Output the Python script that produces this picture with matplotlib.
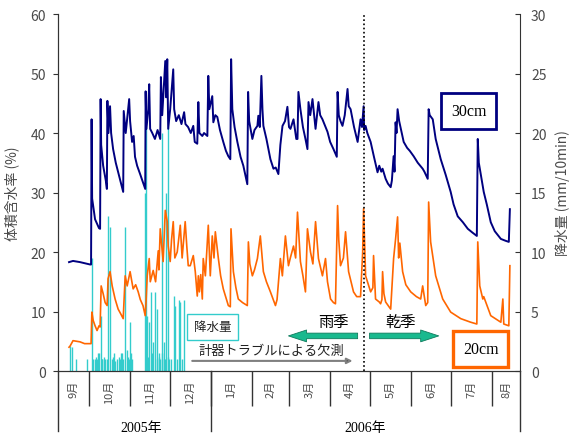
import matplotlib
matplotlib.use('Agg')
import matplotlib.pyplot as plt
import matplotlib.transforms as mtransforms

plt.rcParams['font.family'] = ['Noto Sans CJK JP', 'DejaVu Sans']

# x = days since 2005-09-01
soil30 = [(15.3, 18.3), (18.3, 18.5), (23.6, 18.3), (31.2, 17.9), (31.9, 17.9), (32.3, 42.3), (32.7, 29),
          (34.9, 25.5), (37.9, 24), (38.7, 23.9), (39.1, 45.7), (39.5, 38), (41.0, 34.5), (43.0, 32),
          (43.8, 30.6), (44.2, 45.4), (45, 40), (46.2, 44.5), (47.0, 40), (48.5, 37.3), (50.5, 35),
          (52.3, 33.4), (54.5, 31.5), (56.1, 30.1), (56.5, 43.7), (58, 40), (60.6, 45.7), (61.3, 42),
          (62.8, 38.5), (64, 39.5), (65, 36), (66.6, 34.5), (69, 33), (72.7, 30.6), (73.0, 47),
          (73.6, 40.7), (75.0, 44), (75.7, 48.2), (76.4, 40.7), (78, 40), (80, 39), (82, 40.5), (84.0, 39),
          (84.5, 49.4), (85.5, 43), (87.8, 52.1), (88.5, 46), (89.3, 52.4), (90, 40.7), (91.5, 44),
          (93.8, 50.7), (94.5, 44), (96, 42), (98, 43), (100, 41.5), (102, 43.5), (103, 41.5), (105, 41),
          (107, 40), (108.9, 41.2), (110, 38.5), (111.9, 38.2), (112.7, 45.2), (113.5, 40), (115.7, 39.5),
          (117, 40), (119.5, 39.5), (120.2, 49.6), (121, 44), (123.2, 46.2), (124.0, 41.8), (125.5, 43),
          (127.0, 42.7), (129, 40.5), (131.5, 38.5), (133.5, 37), (135.3, 36.1), (136.8, 35.6),
          (137.4, 52.4), (138.3, 44), (140, 41), (142.1, 38.5), (144.5, 36), (146.6, 34.5), (148.5, 32.5),
          (149.6, 31.4), (150.2, 46.9), (151, 42), (153.4, 39), (155, 40.5), (157.2, 41.2), (157.9, 42.9),
          (159, 41), (160.2, 49.6), (161.0, 44), (161.7, 41.2), (164, 39), (167.0, 35.6), (169.3, 34),
          (171, 34.2), (173.0, 33.1), (174.5, 38), (176.1, 41.2), (178, 42), (179.8, 44.4), (181, 41),
          (182.1, 40.7), (184.4, 42.3), (186.5, 39), (187.4, 39), (188.1, 46.9), (189.6, 44), (191.5, 41),
          (193.4, 39), (194.9, 37.3), (195.7, 45.2), (197, 43), (198.7, 45.7), (201.0, 40.7), (203.2, 45.2),
          (204.5, 43), (206.2, 42.3), (210.0, 40.2), (212, 38.5), (214.5, 37.3), (217.0, 36), (217.6, 46.9),
          (218.5, 43), (219.8, 42), (221.3, 41.2), (223, 43), (225.1, 47.4), (226, 44.5), (227.4, 44),
          (230, 41), (232.7, 38.5), (234.9, 42.3), (236, 41), (237.2, 44.5), (237.6, 40.5), (238.7, 41.2),
          (240, 40), (242.5, 38.5), (245, 36), (247.7, 33.4), (249, 34.5), (250.5, 33.5), (251.5, 34),
          (253.8, 32.3), (255.5, 31.5), (257.6, 30.9), (258.5, 32), (259.8, 36.1), (260.5, 33.5),
          (261.3, 41.8), (262.0, 40), (262.8, 44), (264, 42), (267.4, 38.5), (270, 37.5), (272, 37),
          (274.9, 36.1), (278, 35), (281.7, 34), (283, 33.5), (285.5, 32.3), (286.2, 44), (287, 43),
          (289.3, 42.3), (291.5, 39), (295.3, 35.6), (299, 33), (302.8, 30.1), (305, 28), (308.1, 26),
          (310, 25.5), (312, 25), (315.7, 23.9), (319, 23.3), (322.5, 22.7), (323.2, 39), (324, 35),
          (327.7, 30.1), (330, 28), (333.0, 25), (336, 23.5), (340.6, 22.2), (344, 21.9), (346.6, 21.7),
          (347.4, 27.2)]

soil20 = [(15.3, 4.0), (16.1, 4.2), (18.3, 5.1), (21, 5.0), (23.6, 4.9), (27, 4.6), (31.2, 4.6), (31.9, 4.6),
          (32.5, 9.9), (33.5, 8.5), (34.9, 7.6), (36.4, 6.8), (37.9, 7.6), (38.7, 7.4), (39.5, 14.3),
          (41.0, 13), (42.5, 11.5), (44.0, 11), (44.7, 15.5), (46.2, 16.7), (47.8, 14.3), (50.0, 12.1),
          (52.3, 10.4), (54.5, 9.5), (56.1, 8.8), (56.8, 12), (57.6, 16), (59.1, 14.3), (61.3, 16.7),
          (63.6, 13.8), (65.5, 14.5), (67.4, 13.3), (69, 12), (71, 11), (72.7, 9.3), (73.4, 12), (74.2, 16),
          (75.7, 18.9), (76.5, 15), (78.7, 16.9), (80.5, 15), (82.5, 20.2), (83, 17), (84.0, 23.9),
          (86.2, 18.4), (87.8, 27), (89.3, 25.1), (90, 21), (91.5, 18.4), (92.5, 22), (93.8, 25.1), (95, 19),
          (96.8, 20), (99.1, 24.5), (100.5, 19), (102.8, 25.1), (104, 21), (105.1, 17.7), (106.6, 17.7),
          (108.9, 19.4), (110.4, 16.7), (111.9, 12.6), (112.7, 16), (113.5, 13.3), (114.5, 16.2),
          (115.7, 12.1), (116.4, 18.9), (118, 16), (120.2, 24.5), (121.7, 16), (123.2, 22.7), (124.5, 19),
          (125.5, 23.4), (127.8, 18.9), (129.5, 16), (131.5, 13.8), (135.3, 11), (136.8, 10.8),
          (137.3, 23.9), (139.1, 16.7), (141, 14), (142.8, 12.1), (146, 11.5), (149.6, 11), (150.4, 21.7),
          (151.5, 18), (153.4, 16), (155, 17), (157.2, 18.9), (159.4, 22.7), (161.7, 16.7), (164, 15),
          (167.0, 13.3), (170.8, 11), (172, 12), (174.5, 18.9), (176, 16), (178.3, 22.7), (180.6, 17.7),
          (182, 19), (184.4, 21), (186, 19), (187.4, 26.7), (189.6, 18.4), (191.5, 16), (193.4, 13.3),
          (194.9, 23.9), (197.2, 20), (199, 18), (201.0, 25.1), (203.2, 18.9), (206.2, 16), (208.5, 18.9),
          (210, 15), (212.3, 12.1), (214.5, 11.5), (216.0, 11.3), (217.6, 27.8), (218.5, 22), (219.8, 17.7),
          (222, 19), (223.6, 23.4), (225.9, 16.7), (229.6, 13.3), (232, 12.5), (234.9, 12.5), (236.5, 20),
          (237.2, 27.3), (238.7, 16), (242.5, 13.3), (244.2, 14), (244.7, 19.4), (246.2, 12.1), (249, 11.6),
          (250.0, 11.3), (251, 12), (251.5, 16.7), (252.5, 13), (253.8, 11.6), (257.6, 10.4), (258.5, 14),
          (259.8, 18.9), (261.3, 22.2), (262.8, 25.9), (263.6, 19), (264.5, 21.5), (266.6, 16.7),
          (269, 14.5), (272.7, 13.3), (277, 12.5), (280.2, 12.1), (281.7, 14.3), (284.0, 11), (285.5, 11.5),
          (286.2, 28.4), (287.7, 21.7), (291.5, 16), (296.8, 12.1), (302.8, 9.9), (310.4, 8.8), (317.9, 8.2),
          (322.5, 7.9), (323.2, 21.7), (324.7, 14.3), (327.0, 12.1), (327.7, 12.5), (333.0, 9.3),
          (340.6, 8.2), (342.1, 12.1), (342.8, 7.9), (346.6, 7.6), (347.4, 17.7)]

rain_day = [16.1, 17.3, 20.6, 28.7, 32.4, 33.5, 34.9, 35.7, 36.4, 37.2, 37.5, 39.2, 40.2, 40.5, 41.7,
            42.5, 43.8, 45.0, 46.2, 47.5, 48.5, 48.8, 50.0, 51.5, 53.0, 53.8, 54.5, 55.0, 56.1, 57.6,
            59.1, 59.8, 60.2, 61.3, 62.1, 62.8, 72.7, 73.4, 74.4, 74.9, 75.9, 77.0, 77.9, 78.9, 80.2,
            81.5, 81.7, 82.7, 83.2, 84.0, 85.0, 85.4, 86.5, 87.0, 87.5, 88.5, 89.5, 90.0, 90.8, 92.3,
            94.0, 95.3, 96.5, 97.8, 99.1, 100.3, 101.6]
rain_mm = [2.1, 2.0, 1.0, 1.0, 9.5, 1.0, 1.0, 1.2, 1.0, 1.5, 1.5, 4.6, 1.0, 1.0, 1.2,
           1.0, 1.0, 13.0, 12.1, 1.0, 1.2, 1.5, 0.8, 1.0, 1.2, 1.0, 1.5, 1.5, 1.0, 12.1,
           1.8, 1.2, 1.0, 4.1, 1.5, 1.0, 15.0, 20.5, 4.6, 1.2, 4.1, 6.6, 1.5, 2.4, 6.6,
           5.2, 1.0, 1.5, 1.2, 1.0, 20.0, 1.5, 2.4, 1.0, 1.0, 15.0, 20.5, 1.2, 1.0, 1.0,
           6.3, 5.5, 1.0, 6.0, 5.8, 1.0, 6.0]

month_edges = [30, 61, 91, 122, 153, 181, 212, 242, 273, 303, 334]
month_labels = ['9月', '10月', '11月', '12月', '1月', '2月', '3月', '4月', '5月', '6月', '7月', '8月']
year_labels = ['2005年', '2006年']
x_start, x_end = 7, 355
year_edge = 122
season_day = 237.4

navy = '#000080'
orange = '#FF6600'
cyan = '#33CCCC'
green = '#19B98E'
axcol = '#333333'
txtcol = '#4A4A4A'

fig = plt.figure(figsize=(5.75, 4.35), dpi=100)
ax = fig.add_axes([0.1009, 0.1448, 0.8034, 0.8207])
ax2 = ax.twinx()
ax.set_zorder(ax2.get_zorder() + 1)
ax.patch.set_visible(False)

ax2.vlines(rain_day, 0, rain_mm, color=cyan, lw=1.0)

d30, v30 = zip(*soil30)
d20, v20 = zip(*soil20)
ax.plot(d30, v30, color=navy, lw=1.4)
ax.plot(d20, v20, color=orange, lw=1.2)

ax.axvline(season_day, color='black', lw=1.2, ls=(0, (1, 1.5)))

ax.set_xlim(x_start, x_end)
ax.set_ylim(0, 60)
ax2.set_ylim(0, 30)
ax.set_yticks(range(0, 61, 10))
ax2.set_yticks(range(0, 31, 5))

for a in (ax, ax2):
    a.spines['top'].set_visible(False)
    for s in a.spines.values():
        s.set_color(axcol)
ax.spines['right'].set_visible(False)

ax.tick_params(axis='y', direction='out', length=3.5, pad=5, labelsize=10, labelcolor=txtcol, color=axcol)
ax2.tick_params(axis='y', direction='in', length=3.5, pad=8, labelsize=10, labelcolor=txtcol, color=axcol)

# month separators and labels
centers = [(a + b) / 2 for a, b in zip([x_start] + month_edges, month_edges + [x_end])]
ax.set_xticks(month_edges)
ax.tick_params(axis='x', which='major', direction='out', length=25, width=1, color=axcol, labelbottom=False)
ax.set_xticks(centers, minor=True)
ax.set_xticklabels(month_labels, minor=True, rotation=90, fontsize=8, color=txtcol)
ax.tick_params(axis='x', which='minor', length=0, pad=6)

trans = mtransforms.blended_transform_factory(ax.transData, ax.transAxes)
for x in (x_start, year_edge, x_end):
    ax.plot([x, x], [0, -0.168], transform=trans, clip_on=False, color=axcol, lw=1)
ax.text((x_start + year_edge) / 2 + 5, -0.157, year_labels[0], transform=trans, ha='center', va='center',
        fontsize=10, family=['Liberation Serif', 'Noto Sans CJK JP'])
ax.text((year_edge + x_end) / 2, -0.157, year_labels[1], transform=trans, ha='center', va='center',
        fontsize=10, family=['Liberation Serif', 'Noto Sans CJK JP'])

ax.set_ylabel('体積含水率 (%)', fontsize=10, color=txtcol, labelpad=8)
ax2.set_ylabel('降水量 (mm/10min)', fontsize=10, color=txtcol, rotation=90, labelpad=6)

# annotations
ax.text(316.4, 43.7, '30cm', ha='center', va='center', fontsize=11.5,
        family=['Liberation Serif', 'DejaVu Serif'],
        bbox=dict(boxstyle='square,pad=0.6', fc='white', ec=navy, lw=2))
ax.text(325.5, 3.7, '20cm', ha='center', va='center', fontsize=11.5,
        family=['Liberation Serif', 'DejaVu Serif'],
        bbox=dict(boxstyle='square,pad=0.6', fc='white', ec=orange, lw=2.4))
ax.text(123.2, 7.4, '降水量', ha='center', va='center', fontsize=9, color='#222222',
        bbox=dict(boxstyle='square,pad=0.55', fc='white', ec=cyan, lw=1))
ax.text(214.5, 8.4, '雨季', ha='center', va='center', fontsize=11)
ax.text(265.1, 8.4, '乾季', ha='center', va='center', fontsize=11)
arrow = dict(arrowstyle='simple,head_length=1.3,head_width=0.85,tail_width=0.4',
             mutation_scale=10, fc=green, ec='#0E7A5C', lw=0.6, shrinkA=0, shrinkB=0)
ax.annotate('', xy=(180.6, 5.9), xytext=(232.7, 5.9), arrowprops=arrow)
ax.annotate('', xy=(293.8, 5.9), xytext=(241.7, 5.9), arrowprops=arrow)
ax.text(167.8, 3.4, '計器トラブルによる欠測', ha='center', va='center', fontsize=9.5, color='#222222')
ax.annotate('', xy=(228.9, 1.7), xytext=(108.1, 1.7),
            arrowprops=dict(arrowstyle='-|>', mutation_scale=8, ec='#808080', fc='black', lw=1.5,
                            shrinkA=0, shrinkB=0))

fig.savefig('out.png', dpi=100)
